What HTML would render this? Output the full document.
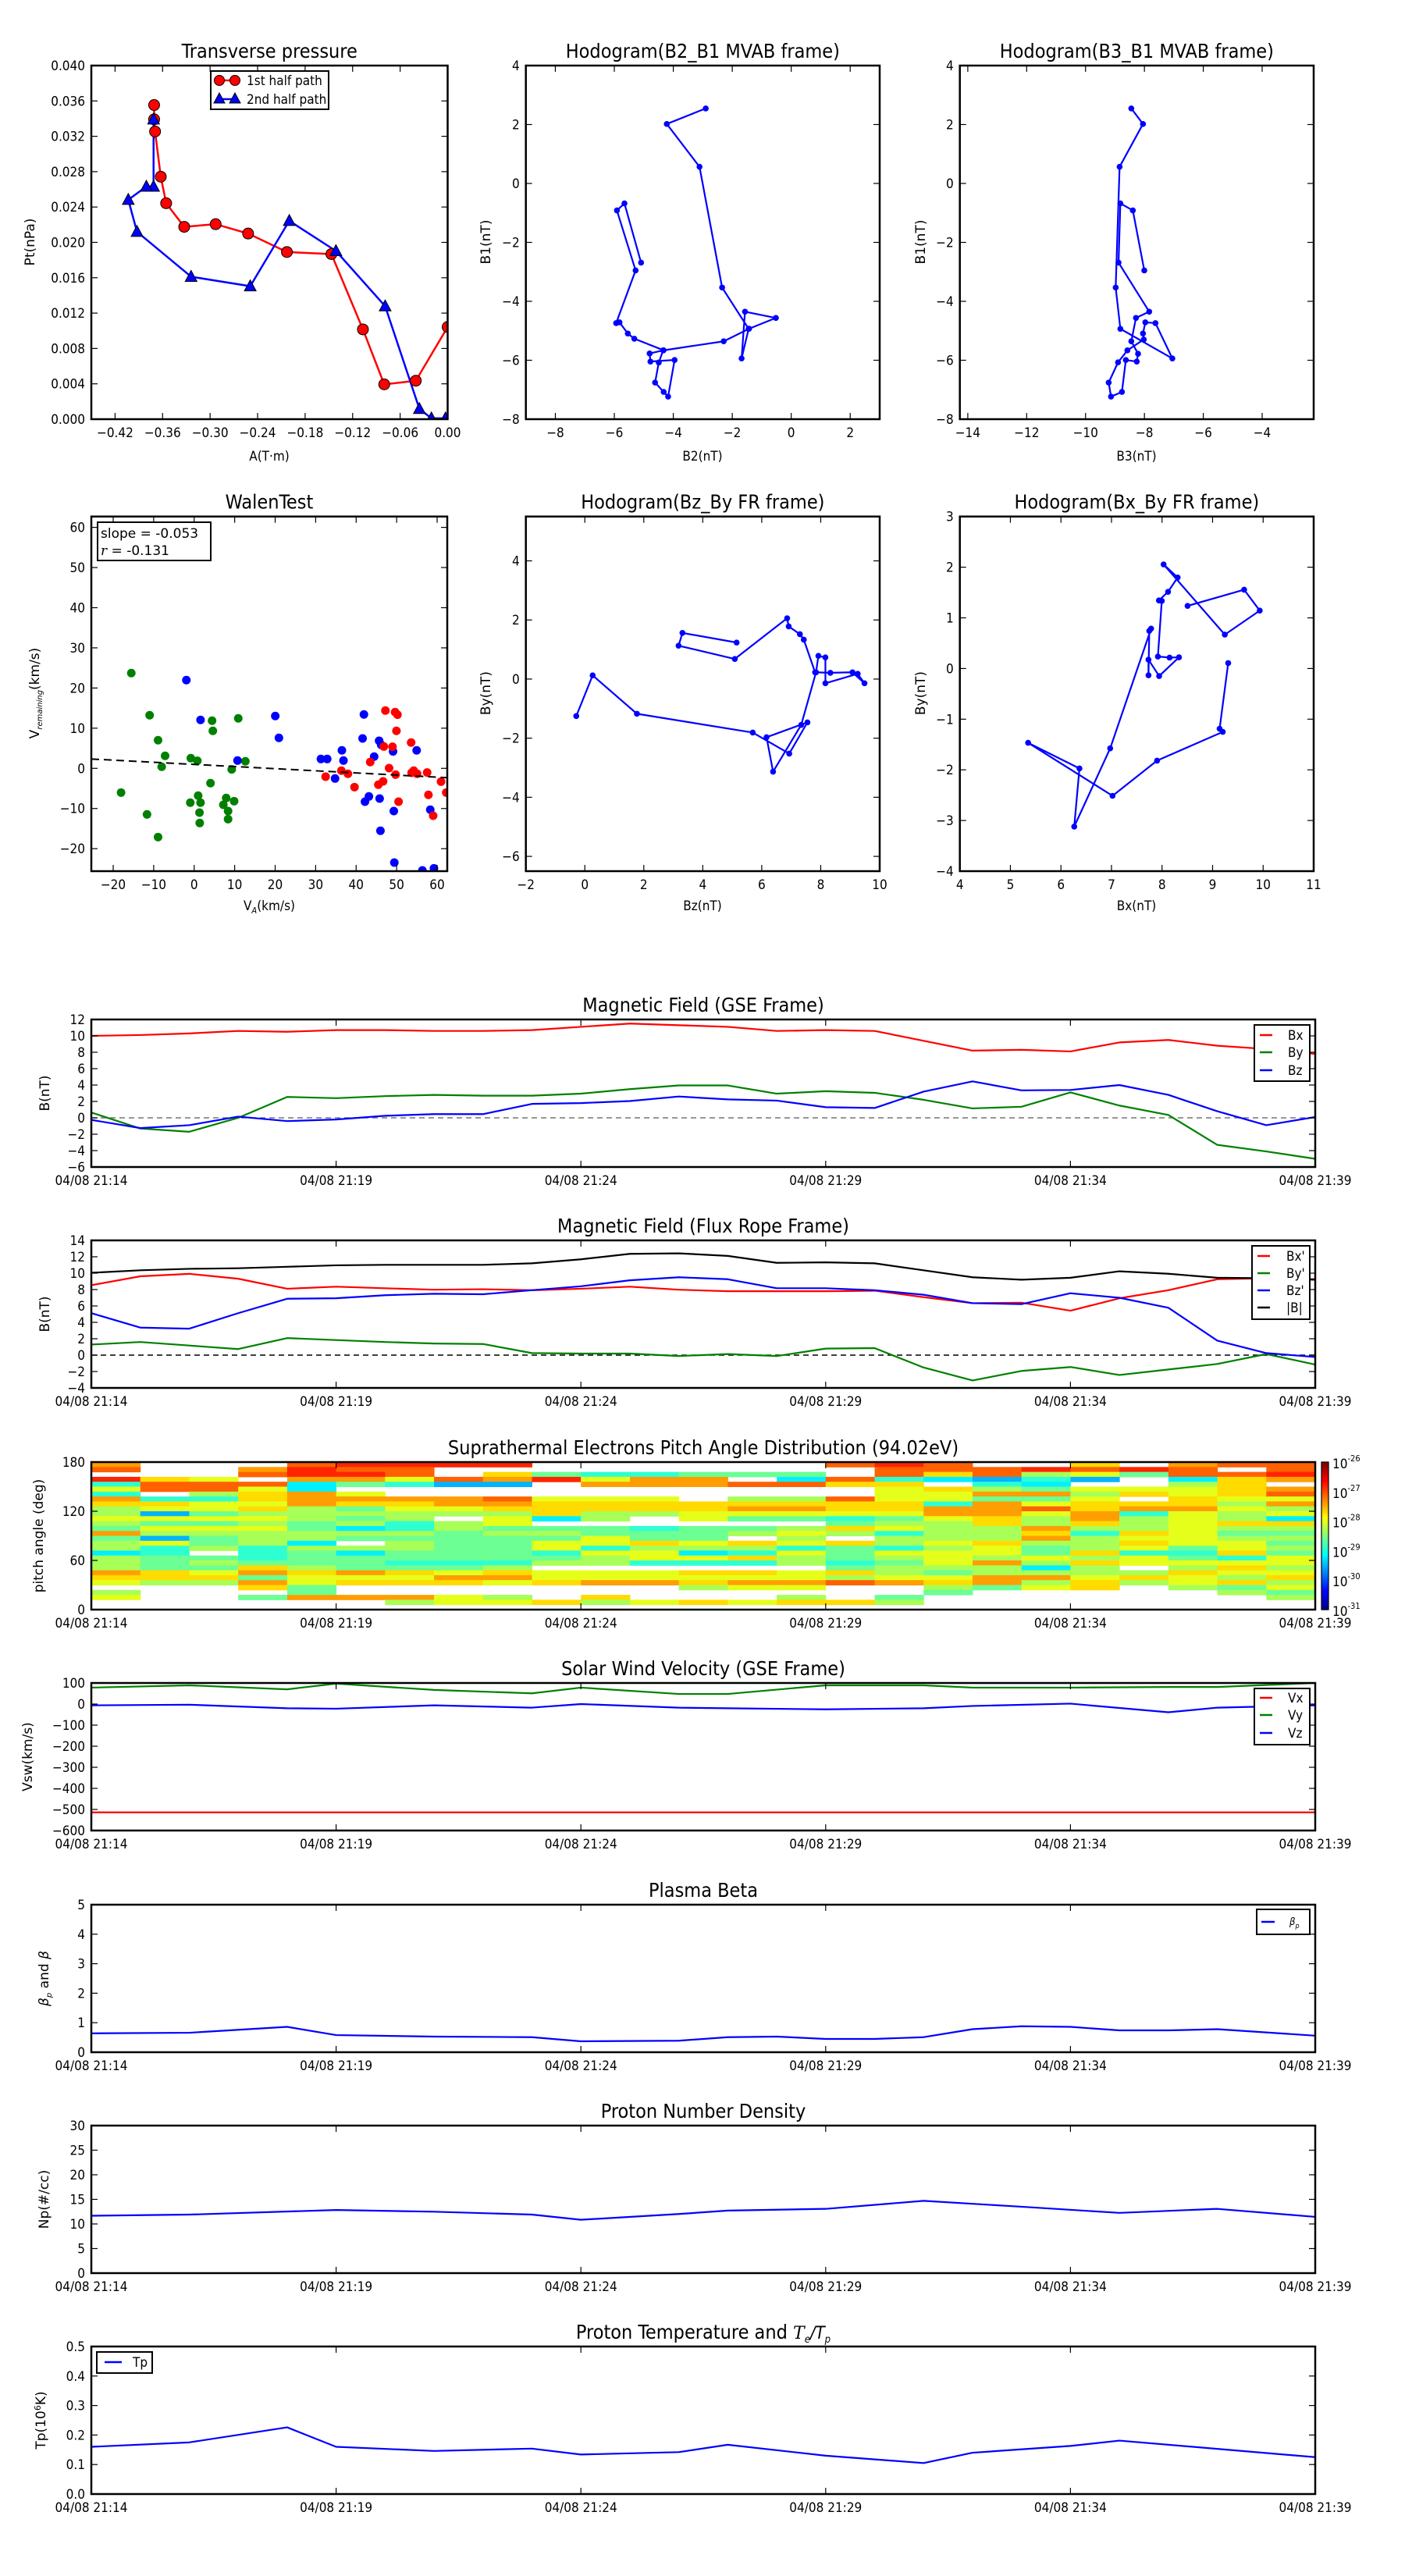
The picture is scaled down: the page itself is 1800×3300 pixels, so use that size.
<!DOCTYPE html>
<html>
<head>
<meta charset="utf-8">
<style>
body{margin:0;background:#fff}
svg{display:block}
text{font-family:"DejaVu Sans Condensed","DejaVu Sans","Liberation Sans",sans-serif;fill:#000}
.tk{font-size:17px}
.tt{font-size:25px}
.lg{font-size:17px}
.yl{font-family:"DejaVu Sans","Liberation Sans",sans-serif;font-size:17px}
</style>
</head>
<body>
<svg id="fig" width="1800" height="3300" viewBox="0 0 1800 3300" xmlns="http://www.w3.org/2000/svg">
<rect x="0" y="0" width="1800" height="3300" fill="#fff"/>
</svg>
<script>
// ---------------- DATA ----------------
const tpRedA=[0,-0.0402,-0.0801,-0.107,-0.1468,-0.203,-0.252,-0.293,-0.3327,-0.3555,-0.3623,-0.3695,-0.3707,-0.3707];
const tpRedP=[0.01043,0.00435,0.00394,0.01016,0.01868,0.01891,0.0210,0.02206,0.02176,0.02443,0.02743,0.03254,0.03392,0.03554];
const tpBlueA=[-0.3714,-0.3714,-0.3805,-0.4033,-0.3923,-0.324,-0.2493,-0.2,-0.1411,-0.0789,-0.0357,-0.0205,-0.0027];
const tpBlueP=[0.03392,0.02631,0.02631,0.02482,0.0212,0.01612,0.01504,0.02244,0.01903,0.01278,0.00117,0.0001,0.0001];
const h1B2=[-2.899,-4.220,-3.110,-2.344,-1.445,-1.683,-1.568,-0.520,-1.43,-2.291,-4.344,-4.493,-4.617,-4.326,-4.176,-3.956,-4.775,-4.802,-4.33,-5.322,-5.542,-5.824,-5.938,-5.278,-5.912,-5.656,-5.093];
const h1B1=[2.546,2.018,0.564,-3.533,-4.934,-5.938,-4.352,-4.564,-4.93,-5.357,-5.665,-6.079,-6.758,-7.075,-7.233,-5.991,-6.044,-5.771,-5.66,-5.269,-5.093,-4.714,-4.740,-2.952,-0.916,-0.678,-2.687];
const h2B3=[-8.446,-8.049,-8.843,-8.976,-8.817,-7.051,-7.625,-7.969,-8.049,-8.022,-8.578,-8.896,-9.214,-9.135,-8.764,-8.631,-8.260,-8.216,-8.446,-8.287,-7.837,-8.879,-8.817,-8.393,-8.004];
const h2B1=[2.546,2.018,0.564,-3.533,-4.934,-5.938,-4.740,-4.714,-5.093,-5.295,-5.665,-6.070,-6.758,-7.233,-7.075,-5.991,-6.044,-5.780,-5.357,-4.564,-4.352,-2.687,-0.678,-0.916,-2.952];
const walenGreenX=[-15.53,-11.0,-8.92,-7.18,-8.02,-18.06,-11.65,-8.92,-0.83,0.79,4.42,4.61,10.89,12.64,9.27,4.03,0.98,1.57,-0.96,1.31,1.37,7.91,7.20,9.86,8.37,8.37];
const walenGreenY=[23.72,13.22,7.00,3.11,0.39,-6.03,-11.47,-17.11,2.53,1.88,11.86,9.33,12.44,1.75,-0.26,-3.69,-6.80,-8.55,-8.55,-11.02,-13.61,-7.39,-9.07,-8.17,-10.63,-12.64];
const walenBlueX=[-1.93,1.57,10.70,20.03,20.93,31.30,32.85,36.48,36.87,34.79,41.92,41.59,45.67,46.19,44.44,49.11,54.94,42.18,43.15,45.80,49.30,46.0,49.43,58.30,56.36,59.21];
const walenBlueY=[21.97,12.05,1.94,13.03,7.58,2.33,2.33,4.47,1.94,-2.53,13.42,7.45,6.87,5.83,2.92,4.21,4.47,-8.30,-7.00,-7.52,-10.63,-15.55,-23.46,-10.30,-25.4,-24.89];
const walenRedX=[47.23,49.62,50.21,49.95,46.84,48.98,43.47,48.13,49.75,36.35,37.97,32.46,39.59,45.48,46.65,50.47,53.58,54.22,55.06,53.70,57.53,57.85,59.02,60.96,62.25];
const walenRedY=[14.39,14.0,13.35,9.33,5.44,5.38,1.56,0.06,-1.56,-0.58,-1.36,-2.07,-4.67,-4.08,-3.24,-8.30,6.42,-0.58,-1.36,-1.10,-1.04,-6.61,-11.80,-3.31,-6.03];
const walenFit=[-0.053,0.98];
const h3Bz=[-0.291,0.265,1.766,5.695,6.932,7.550,6.163,6.384,7.338,7.841,7.921,8.159,8.159,9.254,9.484,9.077,8.327,7.81,7.426,7.294,6.914,6.861,5.086,3.179,3.311,5.148];
const h3By=[-1.253,0.124,-1.174,-1.809,-2.524,-1.465,-1.968,-3.133,-1.553,0.229,0.786,0.733,-0.141,0.177,-0.141,0.229,0.212,0.229,1.333,1.518,1.783,2.057,0.680,1.130,1.562,1.236];
const h4Bx=[9.309,9.139,9.201,7.902,7.021,5.351,6.366,6.263,6.974,7.784,7.747,7.732,7.732,7.943,8.335,8.149,7.918,7.995,7.938,8.119,8.309,8.031,9.242,9.933,9.624,8.505];
const h4By=[0.108,-1.189,-1.251,-1.818,-2.513,-1.467,-1.972,-3.120,-1.576,0.788,0.742,-0.134,0.175,-0.149,0.221,0.216,0.237,1.334,1.344,1.514,1.797,2.055,0.669,1.143,1.555,1.236];
const tMin=[0,1,2,3,4,5,6,7,8,9,10,11,12,13,14,15,16,17,18,19,20,21,22,23,24,25];
const timeTicks=[0,5,10,15,20,25];
const timeLabels=['04/08 21:14','04/08 21:19','04/08 21:24','04/08 21:29','04/08 21:34','04/08 21:39'];
const gseBx=[10.0,10.1,10.3,10.6,10.5,10.7,10.7,10.6,10.6,10.7,11.1,11.5,11.3,11.1,10.6,10.7,10.6,9.4,8.2,8.3,8.1,9.2,9.5,8.8,8.4,7.8];
const gseBy=[0.65,-1.3,-1.7,0,2.55,2.4,2.65,2.8,2.7,2.7,2.95,3.5,3.95,3.95,2.95,3.25,3.05,2.2,1.15,1.35,3.1,1.5,0.35,-3.3,-4.1,-5.0];
const gseBz=[-0.25,-1.25,-0.9,0.15,-0.4,-0.2,0.25,0.45,0.45,1.7,1.8,2.05,2.6,2.25,2.1,1.3,1.2,3.2,4.45,3.35,3.4,4.0,2.8,0.8,-0.9,0.1];
const frBx=[8.53,9.62,9.92,9.32,8.1,8.35,8.16,7.98,8.04,7.92,8.1,8.35,7.98,7.8,7.8,7.8,7.86,7.07,6.34,6.4,5.42,6.94,7.92,9.26,9.38,9.26];
const frBy=[1.29,1.6,1.17,0.74,2.08,1.84,1.6,1.42,1.36,0.25,0.19,0.19,-0.11,0.13,-0.11,0.8,0.86,-1.51,-3.09,-1.93,-1.45,-2.42,-1.75,-1.08,0.13,-1.15];
const frBz=[5.12,3.36,3.23,5.12,6.88,6.94,7.31,7.49,7.43,7.92,8.4,9.13,9.5,9.26,8.16,8.16,7.92,7.37,6.34,6.22,7.55,7.0,5.78,1.77,0.25,-0.23];
const frBt=[10.05,10.35,10.53,10.6,10.78,10.96,11.02,11.02,11.02,11.2,11.69,12.36,12.42,12.11,11.26,11.32,11.2,10.35,9.5,9.2,9.44,10.23,9.93,9.44,9.38,9.2];
const velT=[0,2,4,5,7,9,10,12,13,15,17,18,20,22,23,25];
const velVx=[-514,-514,-514,-514,-514,-514,-514,-514,-514,-514,-514,-514,-514,-514,-514,-514];
const velVy=[78,89,70,97,67,51,78,48,48,89,89,78,78,81,81,100];
const velVz=[-6,-3,-20,-22,-6,-17,0,-17,-20,-25,-20,-9,2,-39,-17,-6];
const betaT=[0,2,4,5,7,9,10,12,13,14,15,16,17,18,19,20,21,22,23,25];
const betaV=[0.64,0.66,0.86,0.58,0.53,0.51,0.37,0.39,0.51,0.53,0.45,0.45,0.51,0.78,0.88,0.86,0.74,0.74,0.78,0.56];
const denT=[0,2,5,7,9,10,12,13,15,17,19,21,23,25];
const denV=[11.67,11.9,12.84,12.49,11.9,10.85,12.02,12.72,13.07,14.7,13.5,12.25,13.07,11.44];
const tempT=[0,2,4,5,7,9,10,12,13,15,17,18,20,21,25];
const tempV=[0.16,0.175,0.226,0.16,0.146,0.154,0.134,0.142,0.167,0.130,0.105,0.140,0.163,0.181,0.125];
const pitchCodes=[
"21.07 47235 54562 65585 55234 .54..","...31 1.734 94645 94776 66335 .....","...41 15744 64645 665.6 56435 .....",
".21.1 43343 54545 55777 63262 3.6..","10028 82225 55665 58566 65344 662..","01026 .4236 56585 6.586 66243 ..2..",
"01147 ..234 55775 65566 76343 ..25.","0..19 ..224 5.556 66666 76423 ..44.","0.329 ..123 54465 66666 75324 ..54.",
"..60. ..433 38.65 64476 5.443 ...3.","..742 ..433 55.66 44745 5.442 ..35.","..722 ..433 5..76 63544 7.442 ...4.",
"..622 ...33 44.66 64584 7.343 5..3.","..6.1 ..532 46.65 .3573 7.342 4..4.","..681 ..532 46.54 54745 5.442 4.53.",
"1..13 ..133 47635 .3666 76351 ...3.","01173 44433 46547 55745 65542 ..65.","1138. 34472 24555 54544 45643 56...",
".1197 52622 23355 53445 25522 6....",".0578 62641 45523 25664 58525 4....","3149. 45433 22357 55535 35543 3....",
".06.. 43.32 75553 43474 4.535 .....","21185 44332 44444 44676 45344 5....","1.133 33454 55356 54437 43453 65...",
"1102. 21425 48356 56564 45435 465.."];
const pitchLog = d => -26.8 - 0.3*d;
const cbarTicks=[-26,-27,-28,-29,-30,-31];

// ---------------- HELPERS ----------------
const NS='http://www.w3.org/2000/svg';
const svg=document.getElementById('fig');
function mk(tag,attrs,parent){const e=document.createElementNS(NS,tag);for(const k in attrs)e.setAttribute(k,attrs[k]);(parent||svg).appendChild(e);return e;}
function txt(s,attrs,parent,name){const e=mk('text',attrs,parent);e.textContent=s;


return e;}
function lin(d0,d1,r0,r1){return v=>r0+(v-d0)*(r1-r0)/(d1-d0);}
function fmt(v,dec){const s=Math.abs(v).toFixed(dec);return (v<0&&parseFloat(s)!==0?'\u2212':'')+s;}
let cidN=0;
function axes(o){
  const g=mk('g',{});
  
  
  const sx=lin(o.xd[0],o.xd[1],o.x0,o.x1), sy=lin(o.yd[0],o.yd[1],o.y1,o.y0);
  const cid='clip'+(cidN++);
  const cp=mk('clipPath',{id:cid},g);
  mk('rect',{x:o.x0,y:o.y0,width:o.x1-o.x0,height:o.y1-o.y0},cp);
  const plot=mk('g',{'clip-path':'url(#'+cid+')'},g);
  
  
  const tg=mk('g',{stroke:'#000','stroke-width':1.2},g);
  
  
  o.xt.forEach((v,i)=>{const x=sx(v);
    mk('line',{x1:x,x2:x,y1:o.y1,y2:o.y1-8},tg);mk('line',{x1:x,x2:x,y1:o.y0,y2:o.y0+8},tg);
    txt(o.xl[i],{x:x,y:o.y1+23,'text-anchor':'middle',class:'tk'},g,'x-tick-label');});
  o.yt.forEach((v,i)=>{const y=sy(v);
    mk('line',{x1:o.x0,x2:o.x0+8,y1:y,y2:y},tg);mk('line',{x1:o.x1,x2:o.x1-8,y1:y,y2:y},tg);
    txt(o.yl[i],{x:o.x0-8,y:y+6,'text-anchor':'end',class:'tk'},g,'y-tick-label');});
  if(o.title) txt(o.title,{x:(o.x0+o.x1)/2,y:o.y0-10,'text-anchor':'middle',class:'tt'},g,'chart-title');
  return {g,plot,sx,sy,frame(){const f=mk('rect',{x:o.x0,y:o.y0,width:o.x1-o.x0,height:o.y1-o.y0,fill:'none',stroke:'#000','stroke-width':2.5},g);
    
    }};
}
function range(a,b,s){const r=[];for(let v=a;v<=b+1e-9;v+=s)r.push(Math.round(v*1e6)/1e6);return r;}
function line(ax,xs,ys,color,w,name,dash){
  const pts=xs.map((x,i)=>ax.sx(x).toFixed(2)+','+ax.sy(ys[i]).toFixed(2)).join(' ');
  const p=mk('polyline',{points:pts,fill:'none',stroke:color,'stroke-width':w,'stroke-linejoin':'round'},ax.plot);
  if(dash)p.setAttribute('stroke-dasharray',dash);
  
  
  return p;
}
function dots(ax,xs,ys,color,r,name,edge){
  const g=mk('g',{},ax.plot);
  
  
  xs.forEach((x,i)=>{const c=mk('circle',{cx:ax.sx(x),cy:ax.sy(ys[i]),r:r,fill:color},g);
    if(edge){c.setAttribute('stroke','#000');c.setAttribute('stroke-width',1);}});
}
function ylabel(s,x,y,name){const t=txt(s,{x:x,y:y,'text-anchor':'middle',class:'yl',transform:'rotate(-90 '+x+' '+y+')'},svg,name);return t;}
function xlabel(s,x,y,name){return txt(s,{x:x,y:y,'text-anchor':'middle',class:'tk'},svg,name);}
function legend(name,x0,y0,w,h,entries,lineX,textX){
  const g=mk('g',{});
  
  
  mk('rect',{x:x0,y:y0,width:w,height:h,fill:'#fff',stroke:'#000','stroke-width':2},g);
  entries.forEach(e=>{
    const ln=mk('line',{x1:lineX[0],x2:lineX[1],y1:e.y,y2:e.y,stroke:e.c,'stroke-width':2.5},g);
    
    
    txt(e.t,{x:textX,y:e.y+6,class:'lg'},g,'legend-entry');
  });
  return g;
}

// ---------------- TOP ROW ----------------
let ax=axes({name:'transverse-pressure-chart',x0:117,x1:573.5,y0:84,y1:537,xd:[-0.45,0],yd:[0,0.04],
  xt:range(-0.42,0,0.06),xl:range(-0.42,0,0.06).map(v=>fmt(v,2)),yt:range(0,0.04,0.004),yl:range(0,0.04,0.004).map(v=>fmt(v,3)),title:'Transverse pressure'});
line(ax,tpRedA,tpRedP,'#f00',2.5,'first-half-path-line');
line(ax,tpBlueA,tpBlueP,'#00f',2.5,'second-half-path-line');
dots(ax,tpRedA,tpRedP,'#f00',7,'first-half-path-markers',true);
(function(){const g=mk('g',{},ax.plot);


tpBlueA.forEach((a,i)=>{const x=ax.sx(a),y=ax.sy(tpBlueP[i]);mk('polygon',{points:`${x},${y-8} ${x-7.5},${y+6} ${x+7.5},${y+6}`,fill:'#00f',stroke:'#000','stroke-width':1},g);});})();
ax.frame();
(function(){const g=mk('g',{});


mk('rect',{x:270,y:91,width:151,height:49,fill:'#fff',stroke:'#000','stroke-width':2},g);
mk('line',{x1:281,x2:301,y1:103,y2:103,stroke:'#f00','stroke-width':2.5},g);
mk('circle',{cx:281,cy:103,r:6.5,fill:'#f00',stroke:'#000','stroke-width':1},g);
mk('circle',{cx:301,cy:103,r:6.5,fill:'#f00',stroke:'#000','stroke-width':1},g);
txt('1st half path',{x:316,y:109,class:'lg'},g,'legend-entry');
mk('line',{x1:281,x2:301,y1:127,y2:127,stroke:'#00f','stroke-width':2.5},g);
mk('polygon',{points:'281,119 274,132 288,132',fill:'#00f',stroke:'#000','stroke-width':1},g);
mk('polygon',{points:'301,119 294,132 308,132',fill:'#00f',stroke:'#000','stroke-width':1},g);
txt('2nd half path',{x:316,y:133,class:'lg'},g,'legend-entry');})();
xlabel('A(T\u00b7m)',345,590,'x-axis-title');
ylabel('Pt(nPa)',44,310,'y-axis-title');

ax=axes({name:'hodogram-b2-b1-chart',x0:673.7,x1:1127,y0:84,y1:537,xd:[-9,3],yd:[-8,4],
  xt:range(-8,2,2),xl:range(-8,2,2).map(v=>fmt(v,0)),yt:range(-8,4,2),yl:range(-8,4,2).map(v=>fmt(v,0)),title:'Hodogram(B2_B1 MVAB frame)'});
line(ax,h1B2,h1B1,'#00f',2.2,'hodogram-b2-b1-line');
dots(ax,h1B2,h1B1,'#00f',3.8,'hodogram-b2-b1-points');
ax.frame();
xlabel('B2(nT)',900,590,'x-axis-title');
ylabel('B1(nT)',628,310,'y-axis-title');

ax=axes({name:'hodogram-b3-b1-chart',x0:1229.7,x1:1683,y0:84,y1:537,xd:[-14.27,-2.25],yd:[-8,4],
  xt:range(-14,-4,2),xl:range(-14,-4,2).map(v=>fmt(v,0)),yt:range(-8,4,2),yl:range(-8,4,2).map(v=>fmt(v,0)),title:'Hodogram(B3_B1 MVAB frame)'});
line(ax,h2B3,h2B1,'#00f',2.2,'hodogram-b3-b1-line');
dots(ax,h2B3,h2B1,'#00f',3.8,'hodogram-b3-b1-points');
ax.frame();
xlabel('B3(nT)',1456,590,'x-axis-title');
ylabel('B1(nT)',1185,310,'y-axis-title');

// ---------------- SECOND ROW ----------------
ax=axes({name:'walen-test-chart',x0:117,x1:573,y0:661.7,y1:1116,xd:[-25.4,62.5],yd:[-25.6,62.7],
  xt:range(-20,60,10),xl:range(-20,60,10).map(v=>fmt(v,0)),yt:range(-20,60,10),yl:range(-20,60,10).map(v=>fmt(v,0)),title:'WalenTest'});
dots(ax,walenGreenX,walenGreenY,'#008000',5.5,'walen-green-points');
dots(ax,walenBlueX,walenBlueY,'#00f',5.5,'walen-blue-points');
dots(ax,walenRedX,walenRedY,'#f00',5.5,'walen-red-points');
line(ax,[-25.4,62.5],[walenFit[1]+walenFit[0]*-25.4,walenFit[1]+walenFit[0]*62.5],'#000',2,'walen-fit-line','10,6');
ax.frame();
(function(){const g=mk('g',{});


mk('rect',{x:125,y:669,width:145,height:49,fill:'#fff',stroke:'#000','stroke-width':2},g);
txt('slope = -0.053',{x:129,y:689,class:'yl'},g,'slope-text');
const t=txt('',{x:129,y:711,class:'yl'},g,'r-text');
const a=mk('tspan',{'font-style':'italic','font-family':'DejaVu Serif, serif'},t);a.textContent='r';
const b=mk('tspan',{},t);b.textContent=' = -0.131';})();
(function(){const t=txt('',{x:345,y:1166,'text-anchor':'middle',class:'tk'},svg,'x-axis-title');
const a=mk('tspan',{},t);a.textContent='V';const b=mk('tspan',{'font-size':'11px',dy:4,'font-style':'italic'},t);b.textContent='A';const c=mk('tspan',{dy:-4},t);c.textContent='(km/s)';
const y=txt('',{x:50,y:888,'text-anchor':'middle',class:'yl',transform:'rotate(-90 50 888)'},svg,'y-axis-title');
const d=mk('tspan',{},y);d.textContent='V';const e=mk('tspan',{'font-size':'10px',dy:4,'font-style':'italic'},y);e.textContent='remaining';const f=mk('tspan',{dy:-4},y);f.textContent='(km/s)';})();

ax=axes({name:'hodogram-bz-by-chart',x0:673.7,x1:1127,y0:661.7,y1:1116,xd:[-2,10],yd:[-6.5,5.5],
  xt:range(-2,10,2),xl:range(-2,10,2).map(v=>fmt(v,0)),yt:range(-6,4,2),yl:range(-6,4,2).map(v=>fmt(v,0)),title:'Hodogram(Bz_By FR frame)'});
line(ax,h3Bz,h3By,'#00f',2.2,'hodogram-bz-by-line');
dots(ax,h3Bz,h3By,'#00f',3.8,'hodogram-bz-by-points');
ax.frame();
xlabel('Bz(nT)',900,1166,'x-axis-title');
ylabel('By(nT)',628,888,'y-axis-title');

ax=axes({name:'hodogram-bx-by-chart',x0:1229.7,x1:1683,y0:661.7,y1:1116,xd:[4,11],yd:[-4,3],
  xt:range(4,11,1),xl:range(4,11,1).map(v=>fmt(v,0)),yt:range(-4,3,1),yl:range(-4,3,1).map(v=>fmt(v,0)),title:'Hodogram(Bx_By FR frame)'});
line(ax,h4Bx,h4By,'#00f',2.2,'hodogram-bx-by-line');
dots(ax,h4Bx,h4By,'#00f',3.8,'hodogram-bx-by-points');
ax.frame();
xlabel('Bx(nT)',1456,1166,'x-axis-title');
ylabel('By(nT)',1185,888,'y-axis-title');

// ---------------- TIME SERIES ----------------
const TX0=117,TX1=1685,TH=189;
const tops=[1306,1589,1873,2156,2440,2723,3006];
function tAxes(name,top,yd,yt,yl,title){
  return axes({name:name,x0:TX0,x1:TX1,y0:top,y1:top+TH,xd:[0,25],yd:yd,xt:timeTicks,xl:timeLabels,yt:yt,yl:yl,title:title});
}
ax=tAxes('magnetic-field-gse-chart',tops[0],[-6,12],range(-6,12,2),range(-6,12,2).map(v=>fmt(v,0)),'Magnetic Field (GSE Frame)');
line(ax,[0,25],[0,0],'#777',1.5,'zero-line','7,5');
line(ax,tMin,gseBx,'#f00',2.2,'gse-bx-line');
line(ax,tMin,gseBy,'#008000',2.2,'gse-by-line');
line(ax,tMin,gseBz,'#00f',2.2,'gse-bz-line');
ax.frame();
legend('gse-legend',1607,1313,71,72,[{t:'Bx',c:'#f00',y:1326},{t:'By',c:'#008000',y:1348},{t:'Bz',c:'#00f',y:1371}],[1614,1630],1650);
ylabel('B(nT)',63,tops[0]+TH/2,'y-axis-title');
ax=tAxes('magnetic-field-fr-chart',tops[1],[-4,14],range(-4,14,2),range(-4,14,2).map(v=>fmt(v,0)),'Magnetic Field (Flux Rope Frame)');
line(ax,[0,25],[0,0],'#000',1.5,'zero-line','7,5');
line(ax,tMin,frBx,'#f00',2.2,'fr-bx-line');
line(ax,tMin,frBy,'#008000',2.2,'fr-by-line');
line(ax,tMin,frBz,'#00f',2.2,'fr-bz-line');
line(ax,tMin,frBt,'#000',2.2,'fr-btotal-line');
ax.frame();
legend('fr-legend',1604,1596,74,94,[{t:"Bx'",c:'#f00',y:1609},{t:"By'",c:'#008000',y:1631},{t:"Bz'",c:'#00f',y:1653},{t:'|B|',c:'#000',y:1675}],[1611,1627],1648);
ylabel('B(nT)',63,tops[1]+TH/2,'y-axis-title');
ax=tAxes('pitch-angle-chart',tops[2],[0,180],[0,60,120,180],['0','60','120','180'],'Suprathermal Electrons Pitch Angle Distribution (94.02eV)');
function jet(n){const c=v=>Math.round(255*Math.max(0,Math.min(1,v)));return 'rgb('+c(1.5-Math.abs(4*n-3))+','+c(1.5-Math.abs(4*n-2))+','+c(1.5-Math.abs(4*n-1))+')';}
(function(){const g=mk('g',{},ax.plot);


pitchCodes.forEach((s,ci)=>{const col=s.replace(/ /g,'');
  for(let r=0;r<col.length;r++){const ch=col[r]; if(ch==='.')continue;
    const v=pitchLog(+ch); const n=(v+31)/5;
    const a0=180-6*(r+1), a1=180-6*r;
    const x=ax.sx(ci), y=ax.sy(a1);
    const rc=mk('rect',{x:x,y:y,width:ax.sx(ci+1)-x+0.5,height:ax.sy(a0)-y+0.5,fill:jet(n)},g);
    
    
  }});})();
ax.frame();
(function(){const g=mk('g',{});


const y0=tops[2],y1=tops[2]+TH,N=60;
for(let i=0;i<N;i++){mk('rect',{x:1693,y:y1-(i+1)*(TH/N),width:9,height:TH/N+0.6,fill:jet((i+0.5)/N)},g);}
mk('rect',{x:1693,y:y0,width:9,height:TH,fill:'none',stroke:'#000','stroke-width':1.2},g);
const cs=lin(-31,-26,y1,y0);
cbarTicks.forEach(v=>{const y=cs(v);
  const t=txt('',{x:1707,y:y+8,class:'tk'},g,'colorbar-tick-label');
  const a=mk('tspan',{},t);a.textContent='10';const b=mk('tspan',{dy:-9,'font-size':'11px'},t);b.textContent=String(v);});})();
ylabel('pitch angle (deg)',55,tops[2]+TH/2,'y-axis-title');
ax=tAxes('solar-wind-velocity-chart',tops[3],[-600,100],range(-600,100,100),range(-600,100,100).map(v=>fmt(v,0)),'Solar Wind Velocity (GSE Frame)');
line(ax,velT,velVx,'#f00',2.2,'vx-line');
line(ax,velT,velVy,'#008000',2.2,'vy-line');
line(ax,velT,velVz,'#00f',2.2,'vz-line');
ax.frame();
legend('velocity-legend',1607,2163,71,72,[{t:'Vx',c:'#f00',y:2175},{t:'Vy',c:'#008000',y:2197},{t:'Vz',c:'#00f',y:2220}],[1614,1630],1650);
ylabel('Vsw(km/s)',41,tops[3]+TH/2,'y-axis-title');
ax=tAxes('plasma-beta-chart',tops[4],[0,5],range(0,5,1),range(0,5,1).map(v=>fmt(v,0)),'Plasma Beta');
line(ax,betaT,betaV,'#00f',2.2,'beta-line');
ax.frame();
(function(){const g=legend('beta-legend',1610,2446,68,32,[{t:'',c:'#00f',y:2462}],[1616,1633],1651);
const t=txt('',{x:1652,y:2466,'font-size':'13px','font-style':'italic','font-family':'DejaVu Serif, serif'},g,'legend-entry');
const a=mk('tspan',{},t);a.textContent='\u03b2';const b=mk('tspan',{dy:4,'font-size':'9px'},t);b.textContent='p';})();
(function(){const x=62,y=tops[4]+TH/2;const t=txt('',{x:x,y:y,'text-anchor':'middle',class:'yl',transform:'rotate(-90 '+x+' '+y+')',fill:'#444'},svg,'y-axis-title');
const a=mk('tspan',{'font-style':'italic'},t);a.textContent='\u03b2';const b=mk('tspan',{dy:4,'font-size':'10px','font-style':'italic'},t);b.textContent='p';
const c=mk('tspan',{dy:-4},t);c.textContent=' and ';const d=mk('tspan',{'font-style':'italic'},t);d.textContent='\u03b2';})();
ax=tAxes('proton-density-chart',tops[5],[0,30],range(0,30,5),range(0,30,5).map(v=>fmt(v,0)),'Proton Number Density');
line(ax,denT,denV,'#00f',2.2,'density-line');
ax.frame();
ylabel('Np(#/cc)',62,tops[5]+TH/2,'y-axis-title');
ax=tAxes('proton-temperature-chart',tops[6],[0,0.5],range(0,0.5,0.1),range(0,0.5,0.1).map(v=>fmt(v,1)),'');
line(ax,tempT,tempV,'#00f',2.2,'temperature-line');
ax.frame();
(function(){const t=txt('',{x:(TX0+TX1)/2,y:tops[6]-10,'text-anchor':'middle',class:'tt'},svg,'chart-title');
const a=mk('tspan',{},t);a.textContent='Proton Temperature and ';
const b=mk('tspan',{'font-style':'italic','font-family':'DejaVu Serif, serif','font-size':'22px'},t);b.textContent='T';
const c=mk('tspan',{'font-size':'13px',dy:5,'font-style':'italic'},t);c.textContent='e';
const d=mk('tspan',{dy:-5,'font-style':'italic','font-size':'22px'},t);d.textContent='/T';
const e=mk('tspan',{'font-size':'13px',dy:5,'font-style':'italic'},t);e.textContent='p';})();
legend('temperature-legend',124,3013,71,27,[{t:'Tp',c:'#00f',y:3026}],[134,156],170);
(function(){const x=58,y=tops[6]+TH/2;const t=txt('',{x:x,y:y,'text-anchor':'middle',class:'yl',transform:'rotate(-90 '+x+' '+y+')'},svg,'y-axis-title');
const a=mk('tspan',{},t);a.textContent='Tp(10';const b=mk('tspan',{dy:-6,'font-size':'11px'},t);b.textContent='6';const c=mk('tspan',{dy:6},t);c.textContent='K)';})();
</script>
</body>
</html>
